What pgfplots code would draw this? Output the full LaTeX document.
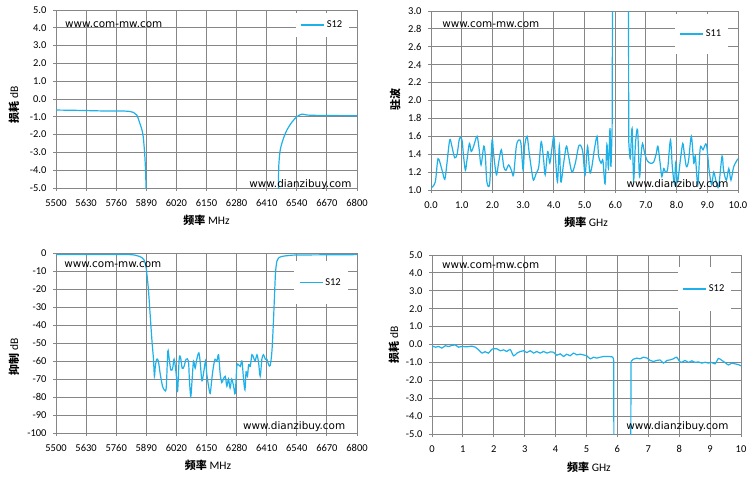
\documentclass[border=0pt]{standalone}
\usepackage{fontspec}
\setmainfont{Carlito}
\newfontfamily\dv{DejaVu Sans}
\newfontfamily\cjk{Noto Sans CJK SC}
\usepackage{pgfplots}
\pgfplotsset{compat=1.18}
\definecolor{ln}{RGB}{30,176,232}
\definecolor{gr}{RGB}{134,134,134}
\pgfplotsset{
 exc/.style={
  scale only axis,
  axis line style={gr, line width=0.9pt},
  grid=major,
  major grid style={gr, line width=0.9pt},
  tick style={gr, line width=0.9pt},
  tick align=outside,
  major tick length=3pt,
  xtick pos=bottom, ytick pos=left,
  tick label style={font=\fontsize{10.5}{12}\selectfont},
  xticklabel style={yshift=-5pt},
  yticklabel style={xshift=-3pt},
  /pgf/number format/assume math mode=true,
  /pgf/number format/1000 sep={},
  every axis x label/.style={anchor=center, font=\fontsize{11.5}{13}\selectfont},
  every axis y label/.style={anchor=center, rotate=90, font=\fontsize{11.5}{13}\selectfont},
  legend style={draw=none, fill=white, anchor=center, font=\fontsize{10.5}{12}\selectfont, inner xsep=5pt},
  legend image code/.code={\draw[##1] (0pt,0pt) -- (23pt,0pt);},
  legend cell align=left,
 },
 dec1/.style={/pgf/number format/.cd, fixed, fixed zerofill, precision=1},
 crv/.style={ln, line width=1.2pt, no markers},
}
\tikzset{wm/.style={font=\dv\fontsize{10.4}{12}\selectfont, inner sep=0pt}}
\newcommand{\zh}[1]{{\cjk\bfseries\fontsize{11}{13}\selectfont #1}}
\begin{document}
\begin{tikzpicture}
\path[use as bounding box] (0pt,0pt) rectangle (754pt,-480pt);
% ---------- panel 1 ----------
\begin{axis}[exc, at={(56pt,-188pt)}, anchor=south west, width=301pt, height=178pt,
  xmin=5500, xmax=6800, ymin=-5, ymax=5,
  xtick={5500,5630,5760,5890,6020,6150,6280,6410,6540,6670,6800},
  ytick={-5,-4,-3,-2,-1,0,1,2,3,4,5},
  yticklabel style={dec1},
  xlabel={\zh{频率} MHz}, ylabel={\zh{损耗} dB},
  xlabel style={at={(axis description cs:0.5,-0.180)}},
  ylabel style={at={(axis description cs:-0.1395,0.466)}},
  legend style={at={(0.885,0.916)}, inner ysep=6pt}]
\addplot[crv, smooth] coordinates {(5500,-0.62)(5600,-0.64)(5700,-0.67)(5800,-0.68)(5834,-0.75)(5849,-0.9)(5863,-1.4)(5875,-1.95)(5882,-2.9)(5886,-3.8)(5889,-5)(5892,-7)};
\addlegendentry{S12}
\addplot[crv, smooth, forget plot] coordinates {(6459,-7)(6461,-5)(6462,-3.8)(6468,-2.9)(6480,-2.3)(6497,-1.75)(6519,-1.3)(6540,-1.0)(6562,-0.85)(6584,-0.9)(6627,-0.92)(6700,-0.93)(6800,-0.94)};
\node[wm, anchor=west] at (rel axis cs:0.03,0.916) {www.com-mw.com};
\node[wm, anchor=center] at (rel axis cs:0.812,0.02) {www.dianzibuy.com};
\end{axis}
% ---------- panel 2 ----------
\begin{axis}[exc, at={(431pt,-190pt)}, anchor=south west, width=307pt, height=179pt,
  xmin=0, xmax=10, ymin=1, ymax=3,
  xtick={0,1,2,3,4,5,6,7,8,9,10},
  ytick={1.0,1.2,1.4,1.6,1.8,2.0,2.2,2.4,2.6,2.8,3.0},
  xticklabel style={dec1}, yticklabel style={dec1},
  xlabel={\zh{频率} GHz}, ylabel={\zh{驻波}},
  xlabel style={at={(axis description cs:0.505,-0.179)}},
  ylabel style={at={(axis description cs:-0.117,0.503)}},
  legend style={at={(0.881,0.872)}, inner ysep=14pt}]
\addplot[crv, smooth] coordinates {(0.00,1.02)(0.14,1.09)(0.23,1.35)(0.36,1.22)(0.45,1.12)(0.52,1.3)(0.61,1.56)(0.68,1.49)(0.77,1.36)(0.85,1.4)(0.93,1.58)(1.01,1.56)(1.06,1.38)(1.12,1.22)(1.17,1.33)(1.25,1.52)(1.31,1.43)(1.39,1.49)(1.50,1.6)(1.57,1.45)(1.63,1.28)(1.72,1.49)(1.77,1.38)(1.82,1.09)(1.91,1.07)(1.99,1.56)(2.04,1.40)(2.13,1.17)(2.20,1.3)(2.29,1.45)(2.37,1.26)(2.44,1.22)(2.53,1.28)(2.62,1.22)(2.69,1.17)(2.78,1.49)(2.86,1.56)(2.93,1.52)(3.00,1.22)(3.05,1.49)(3.13,1.6)(3.20,1.41)(3.29,1.19)(3.34,1.11)(3.43,1.19)(3.51,1.26)(3.59,1.54)(3.67,1.33)(3.72,1.17)(3.80,1.43)(3.87,1.3)(3.94,1.47)(4.00,1.6)(4.05,1.38)(4.12,1.09)(4.18,1.49)(4.23,1.09)(4.32,1.3)(4.41,1.49)(4.48,1.38)(4.59,1.2)(4.70,1.3)(4.81,1.49)(4.89,1.49)(4.95,1.41)(5.02,1.17)(5.10,1.49)(5.17,1.2)(5.24,1.26)(5.32,1.45)(5.41,1.6)(5.46,1.38)(5.54,1.3)(5.60,1.33)(5.67,1.07)(5.73,1.51)(5.78,1.24)(5.83,1.69)(5.86,1.26)(5.90,1.70)};
\addlegendentry{S11}
\addplot[crv, forget plot] coordinates {(5.90,1.70)(5.92,4)};
\addplot[crv, forget plot] coordinates {(6.43,4)(6.44,1.55)};
\addplot[crv, smooth, forget plot] coordinates {(6.44,1.55)(6.49,1.35)(6.55,1.69)(6.60,1.11)(6.66,1.52)(6.73,1.67)(6.79,1.15)(6.84,1.38)(6.89,1.52)(6.96,1.41)(7.04,1.33)(7.14,1.3)(7.25,1.31)(7.34,1.41)(7.39,1.49)(7.47,1.28)(7.52,1.15)(7.58,1.24)(7.64,1.2)(7.71,1.24)(7.80,1.56)(7.86,1.26)(7.93,1.07)(7.97,1.3)(8.03,1.09)(8.12,1.33)(8.20,1.52)(8.25,1.41)(8.32,1.26)(8.39,1.33)(8.48,1.6)(8.56,1.3)(8.61,1.38)(8.69,1.06)(8.77,1.47)(8.86,1.45)(8.97,1.51)(9.06,1.22)(9.14,1.06)(9.21,1.2)(9.29,1.09)(9.37,1.04)(9.48,1.38)(9.53,1.22)(9.62,1.11)(9.70,1.24)(9.77,1.11)(9.86,1.26)(10.00,1.35)};
\node[wm, anchor=west] at (rel axis cs:0.036,0.922) {www.com-mw.com};
\node[wm, anchor=center] at (rel axis cs:0.803,0.031) {www.dianzibuy.com};
\end{axis}
% ---------- panel 3 ----------
\begin{axis}[exc, at={(56pt,-433pt)}, anchor=south west, width=301pt, height=180pt,
  xmin=5500, xmax=6800, ymin=-100, ymax=0,
  xtick={5500,5630,5760,5890,6020,6150,6280,6410,6540,6670,6800},
  ytick={-100,-90,-80,-70,-60,-50,-40,-30,-20,-10,0},
  xlabel={\zh{频率} MHz}, ylabel={\zh{抑制} dB},
  xlabel style={at={(axis description cs:0.505,-0.178)}},
  ylabel style={at={(axis description cs:-0.1395,0.422)}},
  legend style={at={(0.880,0.836)}, inner ysep=15.5pt}]
\addplot[crv, smooth] coordinates {(5500,-0.9)(5700,-0.9)(5820,-0.9)(5850,-1.5)(5863,-2)(5880,-3.7)(5888,-7.4)(5892,-11)(5899,-20)(5906,-33)(5914,-48)(5921,-59)(5925,-68.5)(5929,-63)(5935,-59)(5942,-60)(5950,-67)(5960,-74)(5968,-76)(5976,-75)(5983,-54.6)(5989,-59)(5996,-65)(6004,-64)(6010,-59)(6019,-67)(6025,-77)(6032,-59)(6038,-58)(6045,-64)(6053,-63)(6062,-59)(6072,-60)(6076,-70)(6082,-79.6)(6088,-70)(6094,-60)(6101,-64)(6108,-59)(6117,-55.5)(6123,-61)(6130,-71)(6137,-67)(6146,-60)(6151,-67)(6159,-74)(6166,-78)(6173,-70)(6180,-63)(6187,-59)(6195,-60)(6202,-56.5)(6209,-67)(6216,-72)(6223,-70)(6231,-68.5)(6238,-74)(6245,-70)(6252,-75)(6259,-70)(6267,-74)(6274,-78)(6281,-63)(6288,-62)(6296,-63)(6303,-60)(6310,-70)(6316,-76)(6321,-66)(6327,-68.5)(6332,-62)(6339,-63)(6346,-56.5)(6353,-58)(6360,-60)(6368,-56.5)(6375,-61)(6382,-68.5)(6389,-59)(6396,-56.5)(6404,-59)(6411,-59)(6418,-62)(6425,-62.5)(6432,-55.5)(6437,-44)(6443,-26)(6448,-11)(6454,-4.6)(6461,-2.8)(6476,-1.9)(6512,-1.3)(6555,-1.1)(6800,-0.9)};
\addlegendentry{S12}
\node[wm, anchor=west] at (rel axis cs:0.027,0.933) {www.com-mw.com};
\node[wm, anchor=center] at (rel axis cs:0.791,0.037) {www.dianzibuy.com};
\end{axis}
% ---------- panel 4 ----------
\begin{axis}[exc, at={(432pt,-434pt)}, anchor=south west, width=309pt, height=179pt,
  xmin=0, xmax=10, ymin=-5, ymax=5,
  xtick={0,1,2,3,4,5,6,7,8,9,10},
  ytick={-5,-4,-3,-2,-1,0,1,2,3,4,5},
  yticklabel style={dec1},
  xlabel={\zh{频率} GHz}, ylabel={\zh{损耗} dB},
  xlabel style={at={(axis description cs:0.508,-0.184)}},
  ylabel style={at={(axis description cs:-0.123,0.497)}},
  legend style={at={(0.882,0.810)}, inner ysep=16pt}]
\addplot[crv, smooth] coordinates {(0.00,-0.07)(0.11,-0.15)(0.22,-0.11)(0.32,-0.2)(0.43,-0.07)(0.54,-0.11)(0.65,-0.05)(0.75,-0.02)(0.86,-0.15)(0.97,-0.11)(1.13,-0.13)(1.29,-0.09)(1.40,-0.15)(1.51,-0.3)(1.62,-0.48)(1.72,-0.4)(1.83,-0.48)(1.94,-0.26)(2.10,-0.24)(2.21,-0.35)(2.32,-0.3)(2.42,-0.39)(2.53,-0.28)(2.64,-0.63)(2.75,-0.48)(2.86,-0.39)(2.96,-0.35)(3.07,-0.45)(3.18,-0.35)(3.29,-0.48)(3.39,-0.39)(3.50,-0.48)(3.61,-0.39)(3.72,-0.48)(3.83,-0.41)(3.93,-0.43)(4.04,-0.6)(4.15,-0.52)(4.26,-0.67)(4.36,-0.54)(4.47,-0.63)(4.58,-0.48)(4.69,-0.58)(4.80,-0.54)(4.90,-0.58)(5.01,-0.63)(5.12,-0.8)(5.23,-0.71)(5.33,-0.76)(5.44,-0.71)(5.55,-0.67)(5.71,-0.67)(5.82,-0.69)(5.86,-0.72)};
\addlegendentry{S12}
\addplot[crv, forget plot] coordinates {(5.86,-0.72)(5.88,-0.9)(5.89,-8)};
\addplot[crv, forget plot] coordinates {(6.43,-8)(6.44,-0.95)};
\addplot[crv, smooth, forget plot] coordinates {(6.44,-0.95)(6.52,-0.82)(6.63,-0.76)(6.73,-0.8)(6.84,-0.71)(6.95,-0.75)(7.06,-0.89)(7.17,-0.95)(7.27,-0.89)(7.38,-0.86)(7.49,-1.04)(7.60,-0.89)(7.70,-0.86)(7.81,-0.8)(7.92,-0.71)(8.01,-0.95)(8.08,-1.0)(8.19,-0.89)(8.30,-1.0)(8.41,-0.91)(8.51,-1.0)(8.62,-0.97)(8.73,-1.04)(8.84,-0.99)(8.94,-1.04)(9.05,-1.0)(9.16,-1.08)(9.27,-0.78)(9.38,-0.89)(9.48,-1.0)(9.59,-1.14)(9.70,-1.04)(9.81,-1.08)(9.91,-1.12)(10.00,-1.19)};
\node[wm, anchor=west] at (rel axis cs:0.032,0.939) {www.com-mw.com};
\node[wm, anchor=center] at (rel axis cs:0.794,0.044) {www.dianzibuy.com};
\end{axis}
\end{tikzpicture}
\end{document}
